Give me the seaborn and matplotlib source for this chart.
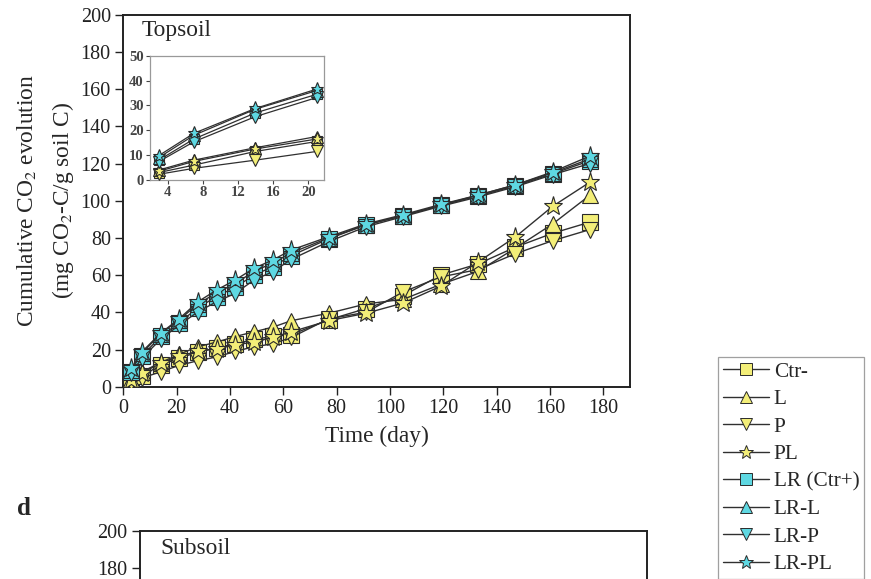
import numpy as np
import pandas as pd
import matplotlib
matplotlib.use("Agg")
import matplotlib.pyplot as plt
from matplotlib.lines import Line2D
import seaborn as sns

# Incubation days
days = [3, 7, 14, 21, 28, 35, 42, 49, 56, 63, 77, 91, 105, 119, 133, 147, 161, 175]

# Cumulative CO2 evolution (mg CO2-C / g soil C), topsoil
ctr_minus = [3.0, 6.0, 11.5, 15.5, 18.5, 21.0, 23.0, 25.5, 27.0, 28.0, 36.0, 42.0, 49.0, 60.0, 66.0, 75.0, 82.5, 88.5]
l_vals    = [4.0, 8.0, 13.0, 17.5, 21.5, 24.0, 27.0, 29.5, 32.0, 35.5, 39.5, 44.5, 47.0, 55.0, 62.0, 74.5, 87.5, 103.0]
p_vals    = [2.3, 4.7, 8.0, 11.5, 14.0, 16.0, 19.0, 21.5, 23.0, 26.5, 36.5, 40.0, 51.0, 59.0, 63.0, 71.5, 78.5, 84.5]
pl_vals   = [3.5, 7.5, 12.5, 16.5, 19.0, 20.5, 22.5, 24.0, 26.5, 29.5, 35.5, 39.5, 45.0, 54.0, 67.0, 80.5, 97.0, 110.0]
lr_ctr    = [8.0, 16.5, 27.0, 34.5, 42.5, 48.5, 53.5, 60.0, 64.5, 70.5, 79.5, 87.0, 92.0, 97.5, 102.5, 108.0, 114.5, 121.5]
lr_l      = [9.0, 18.0, 28.5, 36.0, 44.5, 50.5, 55.5, 62.0, 66.5, 72.0, 80.0, 87.0, 92.0, 97.5, 103.0, 108.5, 115.0, 122.5]
lr_p      = [7.4, 15.4, 25.5, 33.2, 40.3, 45.7, 50.2, 57.4, 61.8, 68.5, 78.0, 86.0, 91.5, 97.0, 102.0, 107.5, 114.0, 120.0]
lr_pl     = [9.8, 18.8, 28.8, 36.6, 45.7, 52.0, 57.4, 63.7, 68.1, 73.5, 80.6, 87.5, 92.5, 98.0, 103.0, 108.5, 115.5, 124.0]

labels = ["Ctr-", "L", "P", "PL", "LR (Ctr+)", "LR-L", "LR-P", "LR-PL"]
series = [ctr_minus, l_vals, p_vals, pl_vals, lr_ctr, lr_l, lr_p, lr_pl]

yellow = "#F3EE78"
cyan = "#5ED8E2"
face_colors = [yellow] * 4 + [cyan] * 4
marker_shapes = ["s", "^", "v", "*", "s", "^", "v", "*"]
marker_scale = {"s": 1.0, "^": 1.1, "v": 1.1, "*": 1.3}

records = []
for lab, vals in zip(labels, series):
    for d, v in zip(days, vals):
        records.append({"day": d, "co2": v, "treatment": lab})
df = pd.DataFrame(records)

sns.set_style("ticks")
plt.rcParams["font.family"] = ["Liberation Serif", "DejaVu Serif"]
plt.rcParams["mathtext.fontset"] = "stix"

fig = plt.figure(figsize=(8.71, 5.79), dpi=100)

edge = "#2a2a2a"
line_col = "#303030"
TICK_FS = 14.5
LABEL_FS = 16.8


def draw_series(ax, data, ms, lw):
    for lab, mk, fc in zip(labels, marker_shapes, face_colors):
        sub = data[data["treatment"] == lab]
        sns.lineplot(data=sub, x="day", y="co2", ax=ax, color=line_col, lw=lw,
                     marker=mk, markersize=ms * marker_scale[mk],
                     markerfacecolor=fc, markeredgecolor=edge, markeredgewidth=0.8,
                     estimator=None, legend=False, zorder=3)


def frame(axis, lw=1.4, color="#222"):
    for s in axis.spines.values():
        s.set_visible(True)
        s.set_linewidth(lw)
        s.set_color(color)


# Main topsoil panel
ax = fig.add_axes([0.1416, 0.3321, 0.5817, 0.6425])
draw_series(ax, df, 11.0, 1.0)
ax.set_xlim(0, 190)
ax.set_ylim(0, 200)
ax.set_xticks(np.arange(0, 181, 20))
ax.set_yticks(np.arange(0, 201, 20))
ax.tick_params(direction="out", length=6, width=1.0, labelsize=TICK_FS, colors="#222", pad=3)
frame(ax)
ax.set_xlabel("Time (day)", fontsize=LABEL_FS, labelpad=5.5)
ax.set_ylabel("Cumulative CO$_2$ evolution\n(mg CO$_2$-C/g soil C)", fontsize=LABEL_FS,
              labelpad=3, linespacing=1.65)
ax.text(0.037, 0.985, "Topsoil", transform=ax.transAxes, fontsize=LABEL_FS, va="top", ha="left")

# Inset: first three weeks
axin = fig.add_axes([0.1722, 0.6891, 0.1998, 0.2147])
early = df[df["day"] <= 21]
draw_series(axin, early, 7.5, 0.9)
axin.set_xlim(2, 21.8)
axin.set_ylim(0, 50)
axin.set_xticks([4, 8, 12, 16, 20])
axin.set_yticks(np.arange(0, 51, 10))
axin.set_xlabel("")
axin.set_ylabel("")
axin.tick_params(direction="out", length=3, width=0.8, labelsize=10.5, colors="#444", pad=1.5)
for t in axin.get_xticklabels() + axin.get_yticklabels():
    t.set_fontweight("bold")
frame(axin, 0.9, "#999")

# Subsoil panel (top part only)
ax2 = fig.add_axes([0.1607, -0.5595, 0.5821, 0.6425])
ax2.set_xlim(0, 190)
ax2.set_ylim(0, 200)
ax2.set_yticks([180, 200])
ax2.set_xticks([])
ax2.tick_params(direction="out", length=6, width=1.0, labelsize=TICK_FS, colors="#222", pad=3)
frame(ax2)
ax2.text(0.04, 0.98, "Subsoil", transform=ax2.transAxes, fontsize=LABEL_FS, va="top", ha="left")
fig.text(0.02, 0.121, "d", fontsize=18, fontweight="bold", ha="left", va="center")

# Legend
handles = [Line2D([0], [0], color=line_col, lw=1.0, marker=mk, markersize=8 * marker_scale[mk],
                  markerfacecolor=fc, markeredgecolor=edge, markeredgewidth=0.7)
           for mk, fc in zip(marker_shapes, face_colors)]
leg = fig.legend(handles, labels, loc="upper left", bbox_to_anchor=(0.8243, 0.3834),
                 fontsize=15.3, frameon=True, fancybox=False, edgecolor="#888",
                 handlelength=2.2, handletextpad=0.2, labelspacing=0.36,
                 borderpad=0.22, borderaxespad=0)
leg.get_frame().set_linewidth(0.9)
leg.set_zorder(10)

fig.savefig("out.png", dpi=100)
